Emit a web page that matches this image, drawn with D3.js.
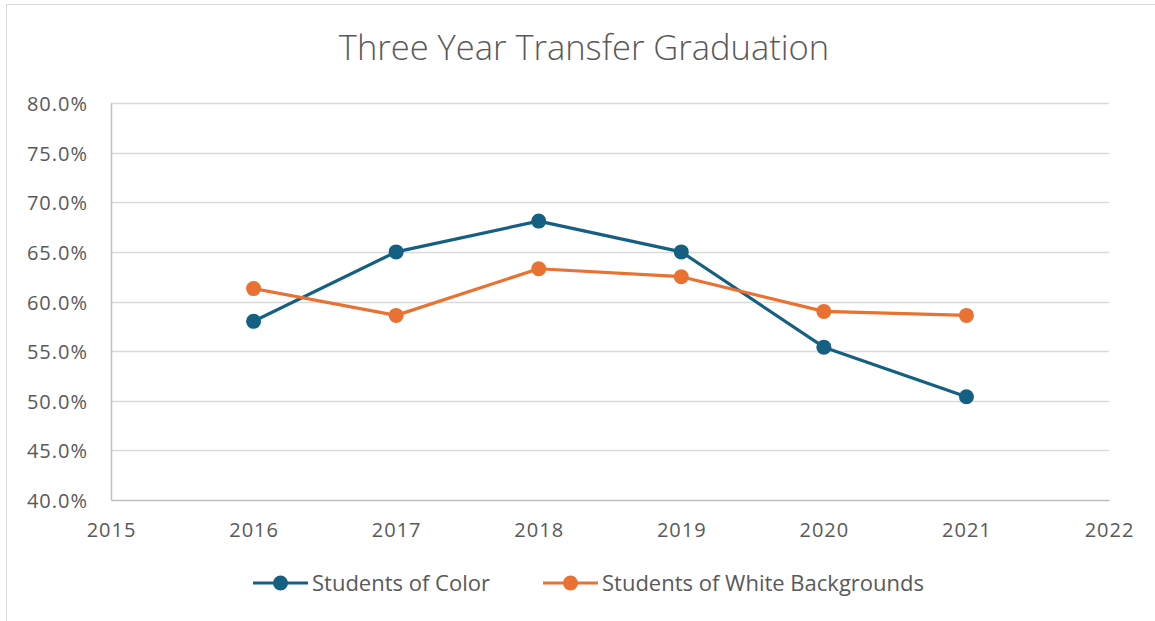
<!DOCTYPE html>
<html><head><meta charset="utf-8">
<script src="https://cdn.jsdelivr.net/npm/d3@7"></script>
<style>
body{margin:0;background:#fff;}
text{font-family:"Open Sans","Noto Sans",sans-serif;fill:#595959;}
</style></head>
<body><svg id="c" width="1155" height="621"></svg>
<script>
const years = [2016, 2017, 2018, 2019, 2020, 2021];
const studentsOfColor = [0.580, 0.650, 0.681, 0.650, 0.554, 0.504];
const studentsOfWhite = [0.613, 0.586, 0.633, 0.625, 0.590, 0.586];
const seriesNames = ["Students of Color", "Students of White Backgrounds"];
const seriesColors = ["#156082", "#E97132"];
const yTicks = [0.40, 0.45, 0.50, 0.55, 0.60, 0.65, 0.70, 0.75, 0.80];
const xTicks = [2015, 2016, 2017, 2018, 2019, 2020, 2021, 2022];
const title = "Three Year Transfer Graduation";

const svg = d3.select("#c");
svg.append("rect").attr("x",6.5).attr("y",4.5).attr("width",1160).attr("height",640)
  .attr("fill","#fff").attr("stroke","#d9d9d9").attr("stroke-width",1);

const x = d3.scaleLinear().domain([2015,2022]).range([111,1109]);
const y = d3.scaleLinear().domain([0.40,0.80]).range([500,103]);

svg.append("text").attr("x",584).attr("y",60).attr("text-anchor","middle")
  .style("font-size","34.5px").style("font-weight",300).text(title);

// gridlines
svg.append("g").selectAll("line").data(yTicks.filter(d=>d>0.40)).join("line")
  .attr("x1",x(2015)).attr("x2",x(2022)).attr("y1",d=>Math.round(y(d))+0.5).attr("y2",d=>Math.round(y(d))+0.5)
  .attr("stroke","#d9d9d9").attr("stroke-width",1.5);

const yAxis = svg.append("g").attr("transform",`translate(${x(2015)},0)`)
  .call(d3.axisLeft(y).tickValues(yTicks).tickFormat(d3.format(".1%")).tickSize(0).tickPadding(23));
yAxis.select(".domain").attr("stroke","#bfbfbf").attr("stroke-width",1.5);
yAxis.selectAll("text").style("font-size","20px").style("letter-spacing","1px").attr("dy","0.38em").attr("fill","#595959");

const xAxis = svg.append("g").attr("transform",`translate(0,${y(0.40)})`)
  .call(d3.axisBottom(x).tickValues(xTicks).tickFormat(d3.format("d")).tickSize(0).tickPadding(22.5));
xAxis.select(".domain").attr("stroke","#bfbfbf").attr("stroke-width",1.5);
xAxis.selectAll("text").style("font-size","20px").style("letter-spacing","1px").attr("fill","#595959");

const line = d3.line().x((d,i)=>x(years[i])).y(d=>y(d));
[studentsOfColor, studentsOfWhite].forEach((s,k)=>{
  svg.append("path").datum(s).attr("d",line).attr("fill","none")
    .attr("stroke",seriesColors[k]).attr("stroke-width",3.2).attr("stroke-linejoin","round");
  svg.append("g").selectAll("circle").data(s).join("circle")
    .attr("cx",(d,i)=>x(years[i])).attr("cy",d=>y(d)).attr("r",7.5).attr("fill",seriesColors[k]);
});

// legend
const legX = [253, 543];
const legY = 583;
seriesNames.forEach((n,k)=>{
  const g = svg.append("g").attr("transform",`translate(${legX[k]},${legY})`);
  g.append("line").attr("x1",0).attr("x2",55).attr("y1",0).attr("y2",0)
    .attr("stroke",seriesColors[k]).attr("stroke-width",3.2);
  g.append("circle").attr("cx",27.5).attr("cy",0).attr("r",7.5).attr("fill",seriesColors[k]);
  g.append("text").attr("x",59).attr("y",8)
    .style("font-size","22px").text(n);
});
</script></body></html>
